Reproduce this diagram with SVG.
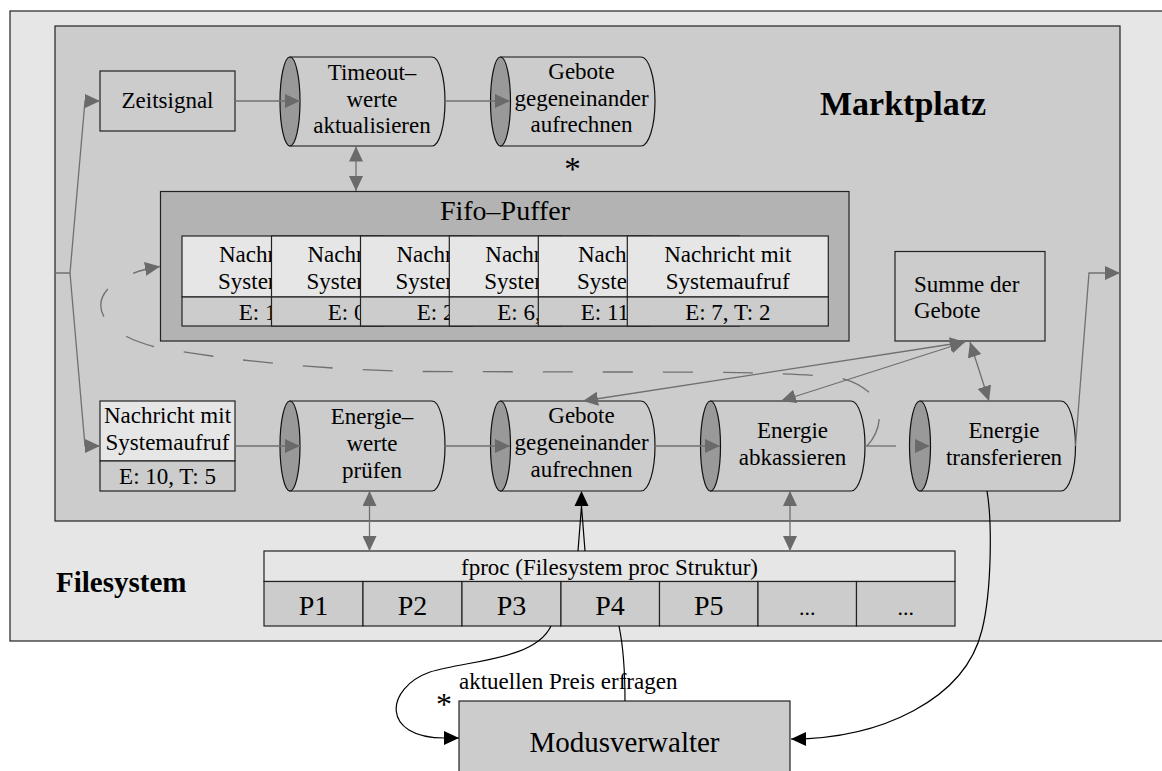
<svg xmlns="http://www.w3.org/2000/svg" width="1162" height="771" viewBox="0 0 1162 771">
  <style>
    .t { font-family: "Liberation Serif", "Times New Roman", serif; font-size: 23px; fill: #000; }
    .c { text-anchor: middle; }
    .box { stroke: #222; stroke-width: 1.2; }
    .body { fill: #cccccc; stroke: #111; stroke-width: 1.2; }
    .lid { fill: #999999; stroke: #111; stroke-width: 1.2; }
    .g { fill: none; stroke: #707070; stroke-width: 1.3; }
    .k { fill: none; stroke: #000; stroke-width: 1.2; }
    .ah { fill: #6a6a6a; }
    .top { fill: #e6e6e6; }
    .bot { fill: #cccccc; }
  </style>
  <defs>
    <marker id="ga" markerUnits="userSpaceOnUse" markerWidth="15" markerHeight="14" refX="15" refY="7" orient="auto-start-reverse" viewBox="0 0 15 14">
      <path d="M0,0 L15,7 L0,14 Z" fill="#6a6a6a" stroke="none"/>
    </marker>
    <marker id="ka" markerUnits="userSpaceOnUse" markerWidth="15" markerHeight="14" refX="15" refY="7" orient="auto-start-reverse" viewBox="0 0 15 14">
      <path d="M0,0 L15,7 L0,14 Z" fill="#000" stroke="none"/>
    </marker>
    <!-- visible strip of each stacked FIFO cell -->
    <clipPath id="cell1"><rect x="182" y="236" width="89.5" height="90"/></clipPath>
    <clipPath id="cell2"><rect x="271.5" y="236" width="89" height="90"/></clipPath>
    <clipPath id="cell3"><rect x="360.5" y="236" width="88.8" height="90"/></clipPath>
    <clipPath id="cell4"><rect x="449.3" y="236" width="89" height="90"/></clipPath>
    <clipPath id="cell5"><rect x="538.3" y="236" width="89" height="90"/></clipPath>
  </defs>

  <rect width="1162" height="771" fill="#ffffff"/>

  <!-- Filesystem frame (runs off the right edge) -->
  <g id="filesystem">
    <rect x="10" y="11" width="1170" height="630" fill="#e6e6e6" class="box"/>
    <text x="56" y="592" class="t" style="font-size:29px;font-weight:bold">Filesystem</text>
  </g>

  <!-- Marktplatz area -->
  <g id="marktplatz">
    <rect x="55" y="26" width="1065" height="495" fill="#cccccc" class="box"/>
    <text x="820" y="115" class="t" style="font-size:34px;font-weight:bold">Marktplatz</text>
  </g>

  <g id="zeitsignal">
    <rect x="100" y="71" width="135" height="60" fill="#cccccc" class="box"/>
    <text x="167.5" y="108" class="t c">Zeitsignal</text>
  </g>

  <g id="timeout">
    <path class="body" d="M290,57 H432 A13,44.5 0 0 1 432,146 H290 Z"/>
    <ellipse class="lid" cx="290" cy="101.5" rx="10" ry="44.5"/>
    <text x="372" y="80" class="t c">Timeout–</text>
    <text x="372" y="107" class="t c">werte</text>
    <text x="372" y="133" class="t c">aktualisieren</text>
  </g>

  <g id="gebote-oben">
    <path class="body" d="M500.5,57 H641 A14,44.5 0 0 1 641,146 H500.5 Z"/>
    <ellipse class="lid" cx="500.5" cy="101.5" rx="10" ry="44.5"/>
    <text x="581.5" y="79" class="t c">Gebote</text>
    <text x="581.5" y="106" class="t c">gegeneinander</text>
    <text x="581.5" y="132" class="t c">aufrechnen</text>
    <text x="572.5" y="180" class="t c" style="font-size:33px">*</text>
  </g>

  <!-- FIFO buffer with stacked message cells; each cell is partly covered by the next -->
  <g id="fifo">
    <rect x="160.5" y="191.5" width="688.5" height="149.5" fill="#b3b3b3" class="box"/>
    <text x="505" y="220" class="t c" style="font-size:28px">Fifo–Puffer</text>

    <g id="fifo-cell-1">
      <rect x="182" y="236" width="201" height="61" class="top box"/>
      <rect x="182" y="297" width="201" height="29" class="bot box"/>
      <g clip-path="url(#cell1)">
        <text x="219" y="261.5" class="t">Nachri</text>
        <text x="218" y="289" class="t">System</text>
        <text x="238.7" y="320" class="t">E: 1</text>
      </g>
    </g>
    <g id="fifo-cell-2">
      <rect x="271.5" y="236" width="201" height="61" class="top box"/>
      <rect x="271.5" y="297" width="201" height="29" class="bot box"/>
      <g clip-path="url(#cell2)">
        <text x="307.5" y="261.5" class="t">Nachri</text>
        <text x="306.5" y="289" class="t">System</text>
        <text x="327.7" y="320" class="t">E: 0</text>
      </g>
    </g>
    <g id="fifo-cell-3">
      <rect x="360.5" y="236" width="201" height="61" class="top box"/>
      <rect x="360.5" y="297" width="201" height="29" class="bot box"/>
      <g clip-path="url(#cell3)">
        <text x="396.5" y="261.5" class="t">Nachri</text>
        <text x="395.5" y="289" class="t">System</text>
        <text x="416.7" y="320" class="t">E: 2</text>
      </g>
    </g>
    <g id="fifo-cell-4">
      <rect x="449.3" y="236" width="201" height="61" class="top box"/>
      <rect x="449.3" y="297" width="201" height="29" class="bot box"/>
      <g clip-path="url(#cell4)">
        <text x="485.3" y="261.5" class="t">Nachri</text>
        <text x="484.3" y="289" class="t">System</text>
        <text x="497.3" y="320" class="t">E: 6,</text>
      </g>
    </g>
    <g id="fifo-cell-5">
      <rect x="538.3" y="236" width="201" height="61" class="top box"/>
      <rect x="538.3" y="297" width="201" height="29" class="bot box"/>
      <g clip-path="url(#cell5)">
        <text x="578" y="261.5" class="t">Nachri</text>
        <text x="577" y="289" class="t">System</text>
        <text x="580.7" y="320" class="t">E: 11</text>
      </g>
    </g>
    <g id="fifo-cell-6">
      <rect x="627.3" y="236" width="201" height="61" class="top box"/>
      <rect x="627.3" y="297" width="201" height="29" class="bot box"/>
      <text x="727.8" y="261.5" class="t c">Nachricht mit</text>
      <text x="727.8" y="289" class="t c">Systemaufruf</text>
      <text x="727.8" y="320" class="t c">E: 7, T: 2</text>
    </g>
  </g>

  <g id="summe">
    <rect x="895" y="251.5" width="150" height="89.5" fill="#cccccc" class="box"/>
    <text x="914" y="292" class="t">Summe der</text>
    <text x="914" y="318" class="t">Gebote</text>
  </g>

  <g id="nachricht">
    <rect x="100" y="401" width="135" height="60" class="top box"/>
    <rect x="100" y="461" width="135" height="30" class="bot box"/>
    <text x="167.5" y="423" class="t c">Nachricht mit</text>
    <text x="167.5" y="450" class="t c">Systemaufruf</text>
    <text x="167.5" y="484" class="t c">E: 10, T: 5</text>
  </g>

  <g id="energiewerte">
    <path class="body" d="M290,401 H432 A13,45 0 0 1 432,491 H290 Z"/>
    <ellipse class="lid" cx="290" cy="446" rx="10" ry="45"/>
    <text x="372" y="424" class="t c">Energie–</text>
    <text x="372" y="451" class="t c">werte</text>
    <text x="372" y="478" class="t c">prüfen</text>
  </g>

  <g id="gebote-unten">
    <path class="body" d="M500.5,401 H641 A14,45 0 0 1 641,491 H500.5 Z"/>
    <ellipse class="lid" cx="500.5" cy="446" rx="10" ry="45"/>
    <text x="581.5" y="423" class="t c">Gebote</text>
    <text x="581.5" y="450" class="t c">gegeneinander</text>
    <text x="581.5" y="477" class="t c">aufrechnen</text>
  </g>

  <g id="abkassieren">
    <path class="body" d="M710.5,401 H851 A14,45 0 0 1 851,491 H710.5 Z"/>
    <ellipse class="lid" cx="710.5" cy="446" rx="10" ry="45"/>
    <text x="792.5" y="438" class="t c">Energie</text>
    <text x="792.5" y="465" class="t c">abkassieren</text>
  </g>

  <g id="transferieren">
    <path class="body" d="M920,401 H1061 A14.5,45 0 0 1 1061,491 H920 Z"/>
    <ellipse class="lid" cx="920" cy="446" rx="10.5" ry="45"/>
    <text x="1004" y="438" class="t c">Energie</text>
    <text x="1004" y="465" class="t c">transferieren</text>
  </g>

  <g id="fproc">
    <rect x="264" y="551" width="691" height="30.5" class="top box"/>
    <text x="609.5" y="575" class="t c">fproc (Filesystem proc Struktur)</text>
    <rect x="264" y="581.5" width="99" height="44.5" class="bot box"/>
    <rect x="363" y="581.5" width="99" height="44.5" class="bot box"/>
    <rect x="462" y="581.5" width="99" height="44.5" class="bot box"/>
    <rect x="561" y="581.5" width="98.5" height="44.5" class="bot box"/>
    <rect x="659.5" y="581.5" width="98.5" height="44.5" class="bot box"/>
    <rect x="758" y="581.5" width="98.5" height="44.5" class="bot box"/>
    <rect x="856.5" y="581.5" width="98.5" height="44.5" class="bot box"/>
    <g class="t c" style="font-size:28px">
      <text x="313.5" y="615">P1</text>
      <text x="412.5" y="615">P2</text>
      <text x="511.5" y="615">P3</text>
      <text x="610" y="615">P4</text>
      <text x="708.8" y="615">P5</text>
      <text x="807.2" y="615" style="font-size:22px">...</text>
      <text x="905.8" y="615" style="font-size:22px">...</text>
    </g>
  </g>

  <g id="modusverwalter">
    <rect x="459" y="701" width="331" height="80" fill="#cccccc" class="box"/>
    <text x="624.5" y="752" class="t c" style="font-size:29px">Modusverwalter</text>
  </g>

  <g id="connectors">
    <!-- entry fan-out from the left edge -->
    <path class="g" d="M55,273 H70 L85,101 H100" marker-end="url(#ga)"/>
    <path class="g" d="M70,273 L85,446 H100" marker-end="url(#ga)"/>
    <!-- top chain -->
    <path class="g" d="M235,101 H300" marker-end="url(#ga)"/>
    <path class="g" d="M445,101 H510" marker-end="url(#ga)"/>
    <path class="g" d="M356,146.5 V191" marker-start="url(#ga)" marker-end="url(#ga)"/>
    <!-- bottom chain -->
    <path class="g" d="M235,446 H300" marker-end="url(#ga)"/>
    <path class="g" d="M445,446 H510" marker-end="url(#ga)"/>
    <path class="g" d="M655,446 H720" marker-end="url(#ga)"/>
    <path class="g" d="M865,446 H896"/>
    <path class="ah" d="M915,439 L930,446 L915,453 Z"/>
    <!-- loop back into the FIFO -->
    <path class="g" stroke-dasharray="30 30" d="M867,446 C882,430 884,405 870,393 C862,386 852,381 840,378 C800,372 700,372 600,372 L420,371.5 C330,370 240,362 160,348 C90,332 90,295 120,280 C128,275 138,270 160,266.5" marker-end="url(#ga)"/>
    <!-- links to Summe der Gebote -->
    <path class="g" d="M965,342 L583,401" marker-start="url(#ga)" marker-end="url(#ga)"/>
    <path class="g" d="M965,342 L781,401" marker-start="url(#ga)" marker-end="url(#ga)"/>
    <path class="g" d="M970,342 L989,401" marker-start="url(#ga)" marker-end="url(#ga)"/>
    <!-- output to the right edge -->
    <path class="g" d="M1075.5,446 L1089,273 H1120" marker-end="url(#ga)"/>
    <!-- links to fproc -->
    <path class="g" d="M369.5,491 V551" marker-start="url(#ga)" marker-end="url(#ga)"/>
    <path class="g" d="M790,491 V551" marker-start="url(#ga)" marker-end="url(#ga)"/>
    <path class="k" d="M578,551 L581.5,506 M585,551 L581.5,506"/>
    <path d="M574.5,506 L581.5,491 L588.5,506 Z" fill="#000"/>
    <!-- Modusverwalter links -->
    <path class="k" d="M551,626 C535,660 470,660 430,672 C385,688 380,738 445,738 L459,738" marker-end="url(#ka)"/>
    <path class="k" d="M619,626 C624,650 625,680 625,701"/>
    <path class="k" d="M987,491 C992,520 992,590 982,630 C965,700 880,739 791,739" marker-end="url(#ka)"/>
    <text x="459" y="689" class="t">aktuellen Preis erfragen</text>
    <text x="444" y="715" class="t c" style="font-size:32px">*</text>
  </g>
</svg>
